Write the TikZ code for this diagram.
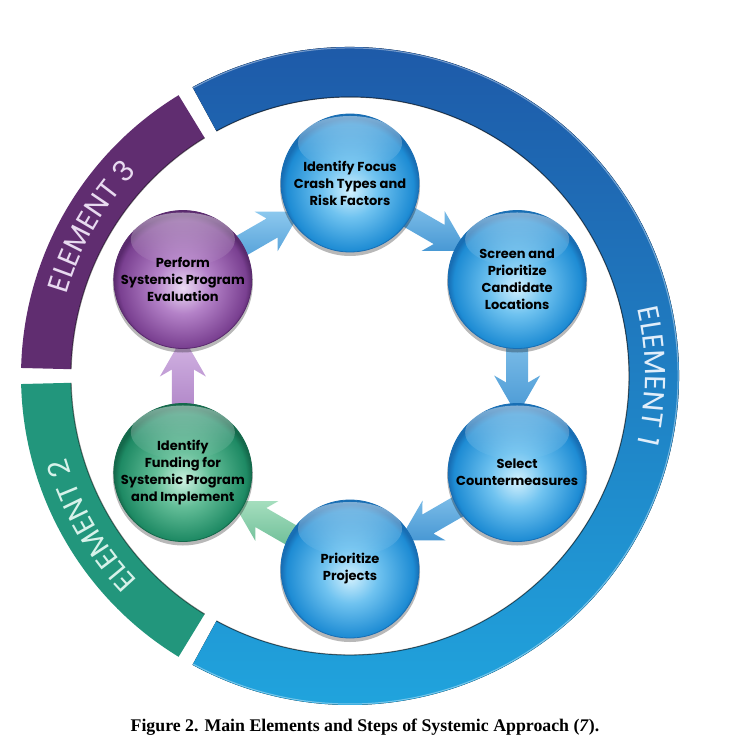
\documentclass[tikz,border=0pt]{standalone}
\usepackage{fontspec}
\setmainfont{Liberation Serif}
\newfontfamily\pop{Poppins}
\usetikzlibrary{calc,decorations.text,fadings}
\pgfdeclarelayer{bg}
\pgfsetlayers{bg,main}

\definecolor{eonetop}{RGB}{30,85,165}
\definecolor{eonebot}{RGB}{32,165,222}
\definecolor{etwo}{RGB}{34,150,124}
\definecolor{ethree}{RGB}{96,45,112}
\definecolor{eonetxt}{RGB}{225,238,250}
\definecolor{etwotxt}{RGB}{215,242,234}
\definecolor{ethreetxt}{RGB}{232,218,240}
% sphere colours
\definecolor{bc}{RGB}{210,240,253}
\definecolor{bm}{RGB}{112,195,240}
\definecolor{be}{RGB}{30,140,212}
\definecolor{bd}{RGB}{24,110,180}
\definecolor{pc}{RGB}{236,218,244}
\definecolor{pm}{RGB}{180,130,200}
\definecolor{pe}{RGB}{122,64,145}
\definecolor{pd}{RGB}{90,42,110}
\definecolor{gc}{RGB}{205,242,225}
\definecolor{gm}{RGB}{100,190,152}
\definecolor{ge}{RGB}{30,138,100}
\definecolor{gd}{RGB}{20,105,75}
% arrow colours
\definecolor{abl}{RGB}{140,200,238}
\definecolor{abd}{RGB}{72,152,212}
\definecolor{agl}{RGB}{165,222,190}
\definecolor{agd}{RGB}{96,182,142}
\definecolor{apl}{RGB}{212,182,228}
\definecolor{apd}{RGB}{166,120,192}

\pgfdeclareradialshading{sphB}{\pgfpoint{0bp}{-3bp}}{color(0bp)=(bc); color(10bp)=(bm); color(23bp)=(be); color(25bp)=(bd); color(50bp)=(bd)}
\pgfdeclareradialshading{sphP}{\pgfpoint{0bp}{-3bp}}{color(0bp)=(pc); color(10bp)=(pm); color(23bp)=(pe); color(25bp)=(pd); color(50bp)=(pd)}
\pgfdeclareradialshading{sphG}{\pgfpoint{0bp}{-3bp}}{color(0bp)=(gc); color(10bp)=(gm); color(23bp)=(ge); color(25bp)=(gd); color(50bp)=(gd)}

\tikzset{
  sph/.style={circle, minimum size=138pt, inner sep=0pt, line width=0.8pt},
  sphtext/.style={align=center, inner sep=0pt,
    font=\pop\bfseries\fontsize{13}{17}\selectfont, text=black},
  elemtext/.style={decorate, decoration={text along path, text align=center, text color=#1}},
}

\newcommand\sphere[5]{% name, angle, shading, edge colour, text
  \fill[black, opacity=0.28] ($(C)+(#2:193pt)+(0pt,-3pt)$) circle[radius=70pt];
  \node[sph, shade, shading=#3, draw=#4] (#1) at ($(C)+(#2:193pt)$) {};
  \fill[white, path fading=south, fill opacity=0.45] ($(#1)+(0pt,40pt)$) ellipse[x radius=52pt, y radius=27pt];
  \node[sphtext] (#1t) at (#1) {#5};
}

\newcommand\blockarrow[4]{% from, to, light, dark
  \coordinate (t) at ($(#1)!40pt!(#2)$);
  \coordinate (h) at ($(#2)!90pt!(#1)$);
  \coordinate (hb) at ($(#2)!97pt!(#1)$);
  \coordinate (p) at ($(#2)!57pt!(#1)$);
  \path[top color=#3, bottom color=#4]
    ($(t)!11pt!90:(p)$) -- ($(h)!11pt!90:(p)$) -- ($(hb)!23pt!90:(p)$) -- (p)
    -- ($(hb)!23pt!-90:(p)$) -- ($(h)!11pt!-90:(p)$) -- ($(t)!11pt!-90:(p)$) -- cycle;
}

\begin{document}
\begin{tikzpicture}[x=1pt,y=1pt]
\useasboundingbox (0,-746) rectangle (731,0);
\begin{pgfonlayer}{bg}
\fill[white] (0,-746) rectangle (731,0);
\end{pgfonlayer}
\coordinate (C) at (350,-376);

% ---- outer ring ----
\def\Ro{329pt}
\def\Ri{279pt}
\fill[top color=eonetop, bottom color=eonebot]
  ($(C)+(118.6:\Ro)$) arc[start angle=118.6, end angle=-118.6, radius=\Ro]
  -- ($(C)+(-118.6:\Ri)$) arc[start angle=-118.6, end angle=118.6, radius=\Ri] -- cycle;
\fill[etwo]
  ($(C)+(181.4:\Ro)$) arc[start angle=181.4, end angle=238.6, radius=\Ro]
  -- ($(C)+(238.6:\Ri)$) arc[start angle=238.6, end angle=181.4, radius=\Ri] -- cycle;
\fill[ethree]
  ($(C)+(121.4:\Ro)$) arc[start angle=121.4, end angle=178.6, radius=\Ro]
  -- ($(C)+(178.6:\Ri)$) arc[start angle=178.6, end angle=121.4, radius=\Ri] -- cycle;
% bevel lines
\draw[black, opacity=0.45, line width=1.2pt]
  ($(C)+(118.6:\Ri)$) arc[start angle=118.6, end angle=-118.6, radius=\Ri];
\draw[black, opacity=0.45, line width=1.2pt]
  ($(C)+(181.4:\Ri)$) arc[start angle=181.4, end angle=238.6, radius=\Ri];
\draw[black, opacity=0.45, line width=1.2pt]
  ($(C)+(121.4:\Ri)$) arc[start angle=121.4, end angle=178.6, radius=\Ri];
\draw[white, opacity=0.4, line width=1pt]
  ($(C)+(118.6:328pt)$) arc[start angle=118.6, end angle=-118.6, radius=328pt];

% ---- element labels ----
\path[elemtext=eonetxt, decoration={text={|\pop\fontsize{29}{29}\selectfont|ELEMENT 1}}]
  ($(C)+(40:295pt)$) arc[start angle=40, end angle=-40, radius=295pt];
\path[elemtext=etwotxt, decoration={text={|\pop\fontsize{29}{29}\selectfont|ELEMENT 2}}]
  ($(C)+(238:295pt)$) arc[start angle=238, end angle=182, radius=295pt];
\path[elemtext=ethreetxt, decoration={text={|\pop\fontsize{29}{29}\selectfont|ELEMENT 3}}]
  ($(C)+(178:295pt)$) arc[start angle=178, end angle=122, radius=295pt];

% ---- spheres ----
\sphere{s1}{90}{sphB}{bd}{Identify Focus\\Crash Types and\\Risk Factors}
\sphere{s2}{30}{sphB}{bd}{Screen and\\Prioritize\\Candidate\\Locations}
\sphere{s3}{-30}{sphB}{bd}{Select\\Countermeasures}
\sphere{s4}{-90}{sphB}{bd}{Prioritize\\Projects}
\sphere{s5}{-150}{sphG}{gd}{Identify\\Funding for\\Systemic Program\\and Implement}
\sphere{s6}{150}{sphP}{pd}{Perform\\Systemic Program\\Evaluation}

% ---- arrows (behind spheres) ----
\begin{pgfonlayer}{bg}
\blockarrow{s6}{s1}{abl}{abd}
\blockarrow{s1}{s2}{abl}{abd}
\blockarrow{s2}{s3}{abl}{abd}
\blockarrow{s3}{s4}{abl}{abd}
\blockarrow{s4}{s5}{agl}{agd}
\blockarrow{s5}{s6}{apl}{apd}
\end{pgfonlayer}

% ---- caption ----
\node (cap) at (365,-727) {\bfseries\fontsize{17.8}{20}\selectfont Figure 2. Main Elements and Steps of Systemic Approach (\textit{7}).};
\end{tikzpicture}
\end{document}
